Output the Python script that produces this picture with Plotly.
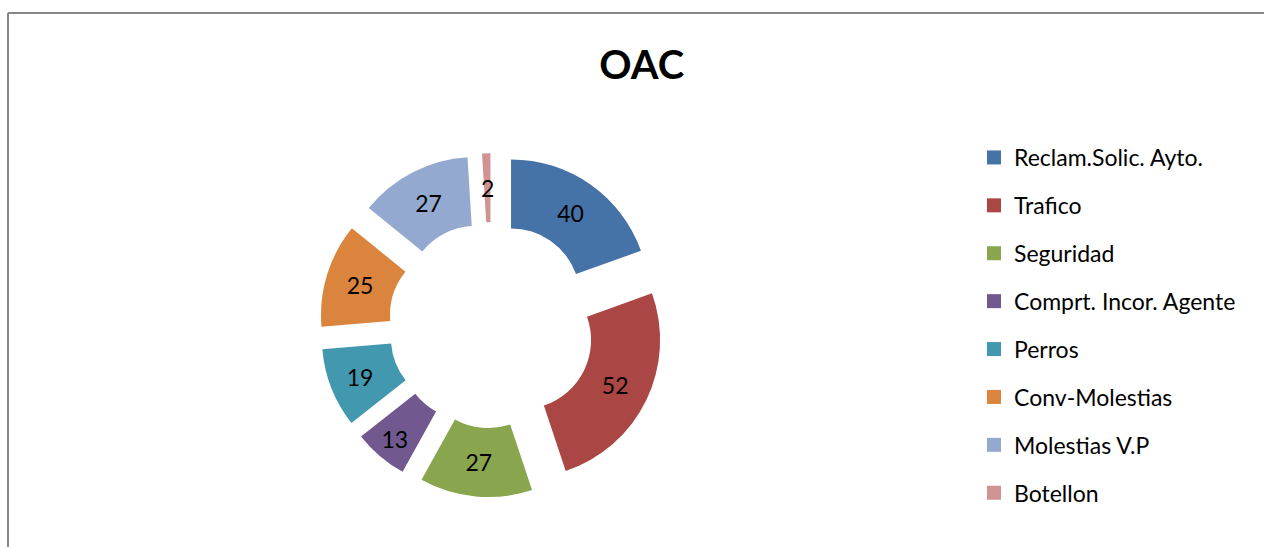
import math
import plotly.graph_objects as go

# Categories and counts for the OAC breakdown
categories = [
    "Reclam.Solic. Ayto.",
    "Trafico",
    "Seguridad",
    "Comprt. Incor. Agente",
    "Perros",
    "Conv-Molestias",
    "Molestias V.P",
    "Botellon",
]
counts = [40, 52, 27, 13, 19, 25, 27, 2]
colors = ["#4572A7", "#AA4643", "#89A54E", "#71588F",
          "#4198AF", "#DB843D", "#93A9CF", "#D19392"]

W, H = 1264, 547
FONT = "Lato"
HOLE = 0.5
PULL = 0.246
LABEL_SIZE = 23

# Pie box in pixels (square), centre and radius derived from it
box_l, box_r = 319.5, 663.5
box_t, box_b = 153.2, 497.2
cx, cy = (box_l + box_r) / 2, (box_t + box_b) / 2
radius = (box_r - box_l) / (2 + 2 * PULL)

# Slices too thin for an inside label get their value written on top instead
total = sum(counts)
thin = [v / total < 0.03 for v in counts]
templates = ["" if t else "%{value}" for t in thin]

annotations = []
acc = 0
for v, t in zip(counts, thin):
    mid = math.radians((acc + v / 2) / total * 360)
    acc += v
    if not t:
        continue
    r_lab = radius * ((1 + HOLE) / 2 + PULL)
    px = cx + r_lab * math.sin(mid)
    py = cy - r_lab * math.cos(mid)
    annotations.append(dict(
        x=px / W, y=1 - py / H, xref="paper", yref="paper",
        text=str(v), showarrow=False, xanchor="center", yanchor="middle",
        font=dict(family=FONT, size=LABEL_SIZE, color="black"),
    ))

fig = go.Figure()

# Exploded donut: every slice pulled out from the centre
fig.add_trace(go.Pie(
    labels=categories,
    values=counts,
    marker=dict(colors=colors, line=dict(width=0)),
    hole=HOLE,
    pull=[PULL] * len(counts),
    sort=False,
    direction="clockwise",
    rotation=0,
    texttemplate=templates,
    textposition="inside",
    insidetextorientation="horizontal",
    textfont=dict(family=FONT, size=LABEL_SIZE, color="black"),
    showlegend=False,
    domain=dict(x=[box_l / W, box_r / W], y=[1 - box_b / H, 1 - box_t / H]),
))

# Legend entries, one group per category so rows can be spaced out
for name, col in zip(categories, colors):
    fig.add_trace(go.Scatter(
        x=[None], y=[None], mode="markers", name=name,
        legendgroup=name,
        marker=dict(symbol="square", size=14, color=col),
    ))

fig.update_layout(
    width=W, height=H,
    margin=dict(l=0, r=0, t=0, b=0),
    paper_bgcolor="white",
    plot_bgcolor="white",
    xaxis=dict(visible=False),
    yaxis=dict(visible=False),
    title=dict(
        text="OAC",
        x=641.7 / W, xanchor="center",
        y=1 - 65 / H, yanchor="middle",
        font=dict(family=FONT, size=40, color="black", weight="bold"),
    ),
    legend=dict(
        x=974 / W, xanchor="left",
        y=1 - 136 / H, yanchor="top",
        font=dict(family=FONT, size=23, color="black"),
        traceorder="grouped",
        tracegroupgap=15,
        bgcolor="rgba(0,0,0,0)",
    ),
    uniformtext=dict(minsize=LABEL_SIZE, mode="show"),
    annotations=annotations,
    shapes=[
        dict(type="line", xref="paper", yref="paper",
             x0=8 / W, x1=1.0, y0=1 - 13 / H, y1=1 - 13 / H,
             line=dict(color="#878787", width=2)),
        dict(type="line", xref="paper", yref="paper",
             x0=8 / W, x1=8 / W, y0=0, y1=1 - 13 / H,
             line=dict(color="#878787", width=2)),
    ],
)

fig.write_html("out.html")
